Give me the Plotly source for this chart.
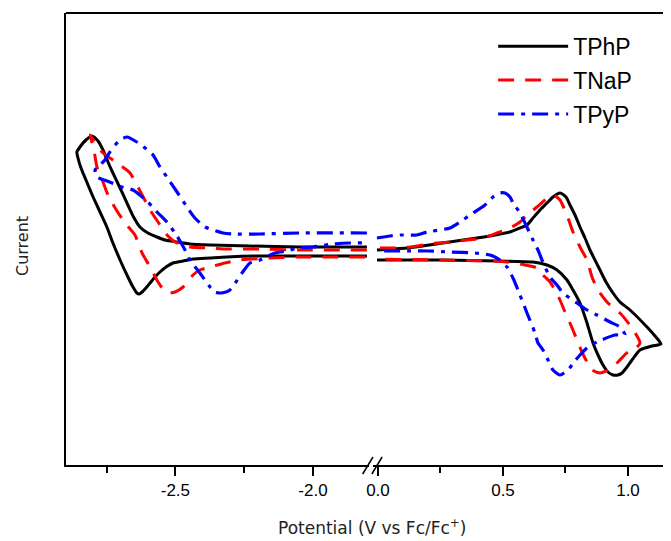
import plotly.graph_objects as go

# ── Data (potential in V vs Fc/Fc+, current in arbitrary units) ────────────────
# left part of the broken axis (reduction region)
tphp_left_v = [-1.804, -2.047, -2.229, -2.374, -2.447, -2.494, -2.538, -2.567, -2.600, -2.629,
               -2.654, -2.676, -2.701, -2.727, -2.745, -2.763, -2.781, -2.803, -2.825, -2.847,
               -2.858, -2.854, -2.843, -2.825, -2.799, -2.774, -2.749, -2.727, -2.701, -2.676,
               -2.654, -2.640, -2.632, -2.621, -2.607, -2.592, -2.574, -2.556, -2.534, -2.509,
               -2.472, -2.436, -2.374, -2.313, -2.193, -2.047, -1.804]
tphp_left_i = [0.8, 0.8, 0.9, 1.0, 1.1, 1.3, 1.5, 1.8, 2.2, 2.8,
               3.9, 5.2, 6.7, 8.2, 9.3, 10.5, 11.4, 11.9, 11.5, 10.8,
               10.3, 9.7, 8.7, 7.5, 5.8, 4.3, 2.8, 1.2, -0.5, -2.0,
               -3.2, -3.8, -3.9, -3.7, -3.3, -2.8, -2.2, -1.7, -1.2, -0.8,
               -0.6, -0.4, -0.3, -0.2, -0.1, -0.1, -0.1]

tnap_left_v = [-1.804, -2.047, -2.193, -2.327, -2.374, -2.447, -2.501, -2.527, -2.563, -2.592,
               -2.636, -2.665, -2.712, -2.763, -2.785, -2.810,
               -2.796, -2.785, -2.763, -2.745, -2.719, -2.683, -2.647, -2.621, -2.592, -2.563,
               -2.545, -2.527, -2.501, -2.472, -2.436, -2.411, -2.374, -2.320, -2.265, -2.156,
               -2.047, -1.804]
tnap_left_i = [0.5, 0.5, 0.6, 0.6, 0.7, 0.8, 1.3, 1.9, 3.3, 4.5,
               6.8, 8.2, 9.2, 10.2, 10.9, 12.0,
               10.5, 8.8, 7.3, 6.0, 4.7, 3.2, 2.0, 0.2, -1.2, -2.7,
               -3.4, -3.8, -3.7, -3.2, -2.0, -1.5, -1.2, -0.8, -0.5, -0.3,
               -0.2, -0.2]

tpyp_left_v = [-1.804, -2.047, -2.193, -2.294, -2.327, -2.392, -2.429, -2.458, -2.494, -2.531,
               -2.556, -2.581, -2.610, -2.640, -2.676, -2.701, -2.719, -2.738, -2.756, -2.781,
               -2.792,
               -2.785, -2.759, -2.730, -2.694, -2.654, -2.629, -2.600, -2.567, -2.531, -2.494,
               -2.465, -2.447, -2.411, -2.374, -2.356, -2.338, -2.316, -2.302, -2.280, -2.258,
               -2.229, -2.193, -2.138, -2.094, -2.058, -2.000, -1.927, -1.866, -1.804]
tpyp_left_i = [2.2, 2.2, 2.1, 2.1, 2.2, 2.8, 3.7, 4.8, 6.3, 7.8,
               8.8, 10.0, 10.7, 11.3, 11.8, 11.5, 11.0, 10.3, 9.5, 8.8,
               8.5,
               7.8, 7.5, 7.2, 6.8, 6.5, 6.0, 5.3, 4.3, 3.3, 1.9,
               0.5, -0.5, -1.8, -3.2, -3.7, -3.8, -3.7, -3.5, -2.7, -1.8,
               -0.8, -0.5, 0.2, 0.4, 0.7, 0.8, 1.1, 1.2, 1.2]

# right part of the broken axis (oxidation region)
tphp_right_v = [-0.004, 0.116, 0.260, 0.396, 0.468, 0.528, 0.568, 0.596, 0.620, 0.648,
                0.676, 0.700, 0.728, 0.752, 0.768, 0.788, 0.808, 0.828, 0.848, 0.888,
                0.912, 0.940, 0.968, 1.008, 1.076, 1.108, 1.132,
                1.096, 1.048, 1.016, 0.996, 0.976, 0.960, 0.940, 0.920, 0.900, 0.880,
                0.860, 0.836, 0.808, 0.780, 0.756, 0.716, 0.676, 0.620, 0.488, 0.248,
                -0.004]
tphp_right_i = [0.5, 0.7, 1.2, 1.7, 2.0, 2.3, 2.7, 3.0, 3.7, 4.5,
                5.2, 5.8, 6.2, 5.8, 5.0, 4.0, 2.8, 1.7, 0.5, -1.5,
                -2.7, -3.8, -4.7, -5.5, -7.2, -8.1, -8.9,
                -9.1, -9.5, -10.5, -11.2, -11.8, -12.0, -12.0, -11.7, -11.0, -10.0,
                -8.8, -6.8, -4.8, -3.5, -2.5, -1.5, -1.0, -0.7, -0.6, -0.5,
                -0.5]

tnap_right_v = [0.008, 0.076, 0.128, 0.180, 0.236, 0.288, 0.356, 0.420, 0.476, 0.528,
                0.568, 0.596, 0.636, 0.668, 0.700, 0.728, 0.760, 0.780, 0.808, 0.836,
                0.856, 0.880, 0.920, 0.968, 1.016, 1.048,
                1.024, 1.000, 0.960, 0.920, 0.888, 0.856, 0.836, 0.816, 0.796, 0.768,
                0.748, 0.728, 0.708, 0.688, 0.660, 0.636, 0.588, 0.516, 0.460, 0.248,
                -0.004]
tnap_right_i = [0.7, 0.7, 0.8, 1.0, 1.2, 1.3, 1.5, 1.7, 2.2, 2.7,
                3.3, 4.0, 4.8, 5.5, 6.0, 5.5, 3.7, 2.3, 0.8, -0.5,
                -2.2, -3.5, -4.8, -5.8, -7.3, -8.8,
                -9.5, -9.7, -10.7, -11.5, -11.8, -11.5, -10.7, -9.7, -8.5, -6.8,
                -5.7, -4.5, -3.5, -2.7, -2.0, -1.3, -1.0, -0.7, -0.6, -0.5,
                -0.4]

tpyp_right_v = [-0.004, 0.048, 0.088, 0.156, 0.196, 0.288, 0.328, 0.368, 0.428, 0.460,
                0.488, 0.508, 0.528, 0.540, 0.568, 0.588, 0.620, 0.640, 0.656, 0.688,
                0.716, 0.740, 0.796, 0.836, 0.876, 0.928, 0.968, 0.988,
                0.948, 0.876, 0.836, 0.808, 0.784, 0.760, 0.728, 0.700, 0.680, 0.660,
                0.640, 0.628, 0.596, 0.568, 0.540, 0.516, 0.488, 0.448, 0.388, 0.288,
                0.200, 0.000]
tpyp_right_i = [1.7, 1.9, 2.0, 2.0, 2.3, 2.7, 3.3, 4.0, 5.0, 5.8,
                6.2, 6.2, 5.8, 5.2, 4.2, 3.2, 1.5, 0.5, -0.5, -2.2,
                -3.0, -3.8, -4.8, -5.5, -6.0, -6.7, -7.2, -8.0,
                -8.0, -8.7, -9.3, -10.0, -10.7, -11.5, -12.0, -11.5, -10.5, -9.5,
                -8.8, -7.8, -5.8, -4.0, -2.3, -1.2, -0.5, 0.0, 0.2, 0.3,
                0.4, 0.4]

series_names = ["TPhP", "TNaP", "TPyP"]

left_ticks = [-2.5, -2.0]
left_labels = ["-2.5", "-2.0"]
left_minor = [-2.75, -2.25]
right_ticks = [0.0, 0.5, 1.0]
right_labels = ["0.0", "0.5", "1.0"]
right_minor = [0.25, 0.75]

# ── Style ──────────────────────────────────────────────────────────────────────
_STYLE = {
    "TPhP": dict(color="#000000", width=3, dash="solid"),
    "TNaP": dict(color="#ff0000", width=3, dash="16px,11px"),
    "TPyP": dict(color="#0000ff", width=3.2, dash="16px,7px,4px,7px"),
}
_FONT = "Liberation Sans, Arial, sans-serif"

curves = {
    "TPhP": (tphp_left_v, tphp_left_i, tphp_right_v, tphp_right_i),
    "TNaP": (tnap_left_v, tnap_left_i, tnap_right_v, tnap_right_i),
    "TPyP": (tpyp_left_v, tpyp_left_i, tpyp_right_v, tpyp_right_i),
}

fig = go.Figure()
for name in series_names:
    lv, li, rv, ri = curves[name]
    fig.add_trace(go.Scatter(
        x=lv, y=li, mode="lines", name=name, legendgroup=name,
        line=dict(shape="spline", smoothing=0.6, **_STYLE[name]),
        xaxis="x", yaxis="y",
    ))
    fig.add_trace(go.Scatter(
        x=rv, y=ri, mode="lines", name=name, legendgroup=name, showlegend=False,
        line=dict(shape="spline", smoothing=0.6, **_STYLE[name]),
        xaxis="x2", yaxis="y",
    ))

_AX = dict(
    showline=True, linecolor="black", linewidth=2,
    ticks="outside", ticklen=9, tickwidth=1.5, tickcolor="black",
    showgrid=False, zeroline=False,
    tickfont=dict(family=_FONT, size=17, color="black"),
)
_MINOR = dict(ticklen=6, tickwidth=1.5, tickcolor="black", ticks="outside")

# the page body adds an 8px margin, so the figure is 8px smaller than the window
fig.update_layout(
    width=663, height=533,
    margin=dict(l=58, r=0, t=5, b=76),
    paper_bgcolor="white", plot_bgcolor="white",
    xaxis=dict(domain=[0, 0.5008], range=[-2.8975, -1.7965],
               tickvals=left_ticks, ticktext=left_labels,
               minor=dict(tickvals=left_minor, **_MINOR), anchor="y", **_AX),
    xaxis2=dict(domain=[0.5074, 1], range=[-0.02, 1.172],
                tickvals=right_ticks, ticktext=right_labels,
                minor=dict(tickvals=right_minor, **_MINOR), anchor="y", **_AX),
    yaxis=dict(range=[-21.0, 24.2], showline=True, linecolor="black", linewidth=2,
               showticklabels=False, ticks="", showgrid=False, zeroline=False),
    legend=dict(x=0.706, y=0.974, xanchor="left", yanchor="top",
                font=dict(family=_FONT, size=23, color="black"),
                bgcolor="rgba(0,0,0,0)", tracegroupgap=1, itemwidth=70),
    showlegend=True,
)

# top border and axis-break marks
fig.add_shape(type="line", xref="paper", yref="paper", x0=0, x1=1, y0=1, y1=1,
              line=dict(color="black", width=2))
for x0 in (0.4904, 0.5055):
    fig.add_shape(type="line", xref="paper", yref="paper",
                  x0=x0, x1=x0 + 0.017, y0=-0.0199, y1=0.0177,
                  line=dict(color="black", width=1.5))

fig.add_annotation(text="Potential (V vs Fc/Fc<sup>+</sup>)", xref="paper", yref="paper",
                   x=0.505, y=-0.137, showarrow=False, xanchor="center", yanchor="middle",
                   font=dict(family="DejaVu Sans", size=17, color="#222222"))
fig.add_annotation(text="Current", xref="paper", yref="paper", textangle=-90,
                   x=-0.0727, y=0.4845, showarrow=False, xanchor="center", yanchor="middle",
                   font=dict(family="DejaVu Sans", size=16, color="#222222"))

fig.write_html("out.html")
